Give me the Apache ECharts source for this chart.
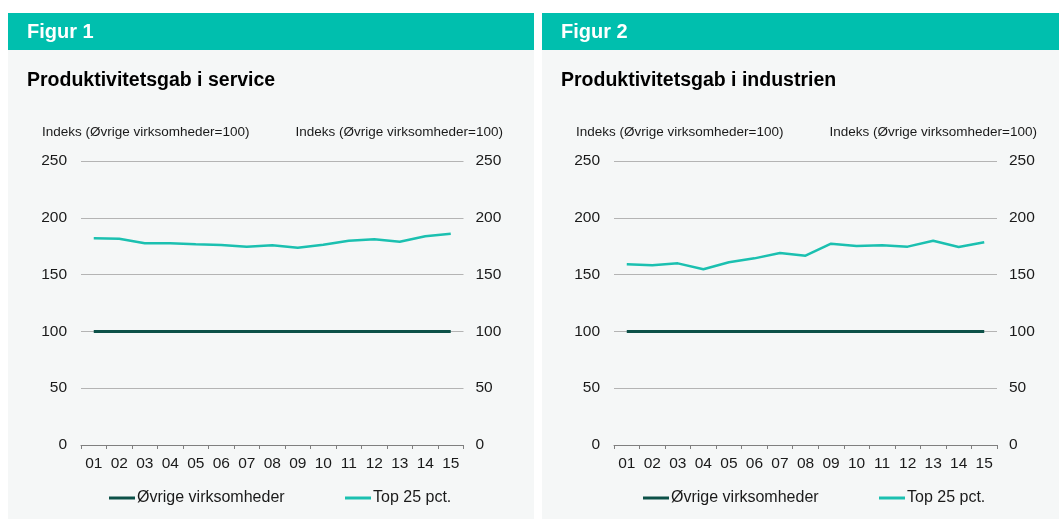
<!DOCTYPE html>
<html>
<head>
<meta charset="utf-8">
<title>Produktivitetsgab</title>
<script src="https://cdn.jsdelivr.net/npm/echarts@6/dist/echarts.min.js"></script>
<style>
  html, body { margin: 0; padding: 0; background: #fff; }
  #chart { width: 1059px; height: 519px; }
</style>
</head>
<body>
<div id="chart"></div>
<script>
// data
const years = ['01', '02', '03', '04', '05', '06', '07', '08', '09', '10', '11', '12', '13', '14', '15']
const ovrigeService = [100, 100, 100, 100, 100, 100, 100, 100, 100, 100, 100, 100, 100, 100, 100]
const top25Service = [182, 181.6, 177.6, 177.6, 176.7, 176.1, 174.6, 175.8, 173.7, 176.3, 179.8, 181.1, 179, 183.7, 186]
const ovrigeIndustri = [100, 100, 100, 100, 100, 100, 100, 100, 100, 100, 100, 100, 100, 100, 100]
const top25Industri = [159.1, 158.2, 159.9, 154.7, 160.8, 164.3, 169, 166.6, 177.2, 175.2, 175.8, 174.6, 179.8, 174.3, 178.4]
const yMin = 0
const yMax = 250
const yStep = 50

const teal = '#00bfae'
const darkGreen = '#0c5148'
const lineTeal = '#1bc0b0'
const panelBg = '#f5f7f7'
const txt = '#1a1a1a'
const font = 'Liberation Sans, Arial, sans-serif'

const chart = echarts.init(document.getElementById('chart'))

// one panel = background, header, texts
function panelGraphics(dx, width, figur, subtitle) {
  return [
    { type: 'rect', shape: { x: dx, y: 13, width: width, height: 506 }, style: { fill: panelBg }, silent: true },
    { type: 'rect', shape: { x: dx, y: 13, width: width, height: 37 }, style: { fill: teal }, silent: true },
    { type: 'text', x: dx + 19, y: 32, style: { text: figur, fill: '#fff', font: 'bold 20px ' + font, verticalAlign: 'middle' } },
    { type: 'text', x: dx + 19, y: 81, style: { text: subtitle, fill: '#000', font: 'bold 19.5px ' + font, verticalAlign: 'middle' } },
    { type: 'text', x: dx + 34, y: 132, style: { text: 'Indeks (Øvrige virksomheder=100)', fill: txt, font: '13.5px ' + font, verticalAlign: 'middle' } },
    { type: 'text', x: dx + 495, y: 132, style: { text: 'Indeks (Øvrige virksomheder=100)', fill: txt, font: '13.5px ' + font, verticalAlign: 'middle', align: 'right' } }
  ]
}

function xAxis(gridIndex) {
  return {
    type: 'category',
    gridIndex: gridIndex,
    data: years,
    boundaryGap: true,
    axisLine: { show: true, lineStyle: { color: '#7f7f7f', width: 1 } },
    axisTick: { show: true, length: 4, interval: 0, lineStyle: { color: '#7f7f7f', width: 1 } },
    axisLabel: { color: txt, fontSize: 15.5, fontFamily: font, margin: 11, interval: 0 }
  }
}

function yAxis(gridIndex, position) {
  return {
    type: 'value',
    gridIndex: gridIndex,
    position: position,
    min: yMin,
    max: yMax,
    interval: yStep,
    axisLine: { show: false },
    axisTick: { show: false },
    axisLabel: { color: txt, fontSize: 15.5, fontFamily: font, margin: position === 'left' ? 14 : 12 },
    splitLine: { show: position === 'left', lineStyle: { color: '#b4b4b4', width: 1 } }
  }
}

function lineSeries(name, data, color, width, axisIdx) {
  return {
    name: name,
    type: 'line',
    data: data,
    xAxisIndex: axisIdx,
    yAxisIndex: axisIdx * 2,
    symbol: 'none',
    lineStyle: { color: color, width: width },
    itemStyle: { color: color },
    animation: false
  }
}

function legendItem(name, left) {
  return {
    data: [{ name: name, icon: 'rect' }],
    left: left,
    top: 485,
    itemWidth: 26,
    itemHeight: 3,
    itemGap: 0,
    textStyle: { color: txt, fontSize: 16, fontFamily: font, padding: [0, 0, 0, -3] },
    selectedMode: false
  }
}

chart.setOption({
  backgroundColor: '#fff',
  graphic: [].concat(
    panelGraphics(8, 526, 'Figur 1', 'Produktivitetsgab i service'),
    panelGraphics(542, 517, 'Figur 2', 'Produktivitetsgab i industrien')
  ),
  grid: [
    { left: 81, top: 161, width: 382.5, height: 284 },
    { left: 614, top: 161, width: 383, height: 284 }
  ],
  xAxis: [xAxis(0), xAxis(1)],
  yAxis: [yAxis(0, 'left'), yAxis(0, 'right'), yAxis(1, 'left'), yAxis(1, 'right')],
  legend: [
    legendItem('Øvrige virksomheder', 104),
    legendItem('Top 25 pct.', 340),
    legendItem('Øvrige virksomheder', 638),
    legendItem('Top 25 pct.', 874)
  ],
  series: [
    lineSeries('Øvrige virksomheder', ovrigeService, darkGreen, 3, 0),
    lineSeries('Top 25 pct.', top25Service, lineTeal, 2.5, 0),
    lineSeries('Øvrige virksomheder', ovrigeIndustri, darkGreen, 3, 1),
    lineSeries('Top 25 pct.', top25Industri, lineTeal, 2.5, 1)
  ]
})
</script>
</body>
</html>
